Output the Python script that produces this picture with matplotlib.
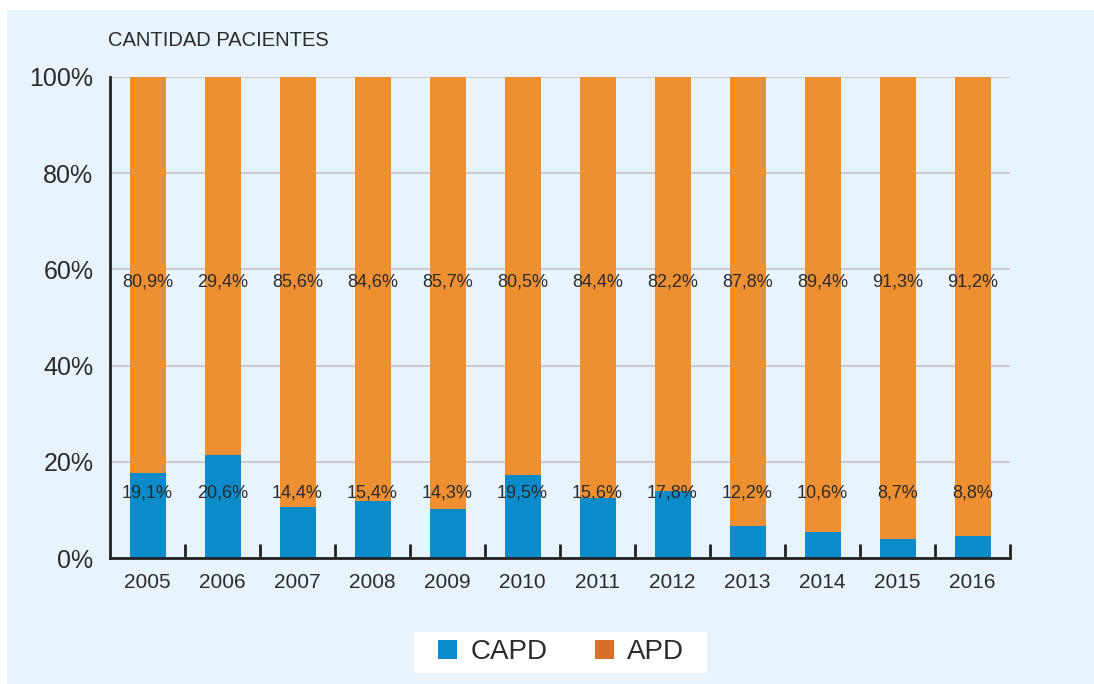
import numpy as np
import matplotlib
matplotlib.use('Agg')
import matplotlib.pyplot as plt
from matplotlib.patches import Rectangle, Patch

years = ['2005', '2006', '2007', '2008', '2009', '2010',
         '2011', '2012', '2013', '2014', '2015', '2016']
# bar heights as drawn (fraction of 100%)
capd = [17.7, 21.4, 10.6, 11.8, 10.2, 17.2, 12.5, 13.9, 6.6, 5.4, 3.9, 4.6]
# labels as printed in the chart
capd_labels = ['19,1%', '20,6%', '14,4%', '15,4%', '14,3%', '19,5%',
               '15,6%', '17,8%', '12,2%', '10,6%', '8,7%', '8,8%']
apd_labels = ['80,9%', '29,4%', '85,6%', '84,6%', '85,7%', '80,5%',
              '84,4%', '82,2%', '87,8%', '89,4%', '91,3%', '91,2%']

BLUE = '#0c8bcb'
ORANGE = '#ee8f32'
ORANGE_LEG = '#d8702c'
BG = '#e8f4fc'
TXT = '#2b2b2b'

plt.rcParams['font.family'] = ['Liberation Sans', 'DejaVu Sans']

W, H = 1094, 684
fig = plt.figure(figsize=(W / 100, H / 100), dpi=100, facecolor='white')
fig.patches.append(Rectangle((7 / W, 0), 1 - 7 / W, 1 - 10 / H,
                             transform=fig.transFigure, facecolor=BG,
                             edgecolor='none', zorder=-10))
# white legend box
fig.patches.append(Rectangle((414 / W, 1 - 673 / H), 293 / W, 41 / H,
                             transform=fig.transFigure, facecolor='white',
                             edgecolor='none', zorder=-5))

# axes: x 110..1010, y 77..558 (pixels from top)
ax = fig.add_axes([110 / W, 1 - 558 / H, 900 / W, 481 / H])
ax.set_facecolor('none')

x = np.arange(len(years))
apd = [100 - c for c in capd]
ax.bar(x, capd, width=0.48, color=BLUE, zorder=2)
ax.bar(x, apd, width=0.48, bottom=capd, color=ORANGE, zorder=2)

for i in x:
    ax.text(i, 57.4, apd_labels[i], ha='center', va='center', fontsize=13,
            color=TXT, zorder=3)
    ax.text(i, 13.5, capd_labels[i], ha='center', va='center', fontsize=13,
            color=TXT, zorder=3)

ax.set_xlim(-0.5, len(years) - 0.5)
ax.set_ylim(0, 100)
ax.set_yticks([0, 20, 40, 60, 80, 100])
ax.set_yticklabels(['0%', '20%', '40%', '60%', '80%', '100%'],
                   fontsize=18, color=TXT)
ax.yaxis.grid(True, color='#cccccc', linewidth=1.5, zorder=1)
ax.set_axisbelow(True)
ax.tick_params(axis='y', length=0, pad=12)

ax.set_xticks(x)
ax.set_xticklabels(years, fontsize=15, color=TXT)
ax.set_xticks(np.arange(0.5, len(years), 1), minor=True)
ax.tick_params(axis='x', which='major', length=0, pad=11)
ax.tick_params(axis='x', which='minor', direction='in', length=10,
               width=2, color='#222222')

for s in ['top', 'right']:
    ax.spines[s].set_visible(False)
for s in ['left', 'bottom']:
    ax.spines[s].set_color('#222222')
    ax.spines[s].set_linewidth(2)

fig.text(108 / W, 1 - 40 / H, 'CANTIDAD PACIENTES', fontsize=14.5,
         color=TXT, ha='left', va='center')

handles = [Patch(facecolor=BLUE, edgecolor='none', label='CAPD'),
           Patch(facecolor=ORANGE_LEG, edgecolor='none', label='APD')]
leg = fig.legend(handles=handles, loc='center',
                 bbox_to_anchor=(561 / W, 1 - 652 / H), ncol=2,
                 fontsize=20, frameon=False,
                 handlelength=0.7, handleheight=0.7, handletextpad=0.47,
                 columnspacing=1.7, borderpad=0, borderaxespad=0)
for t in leg.get_texts():
    t.set_color(TXT)

fig.savefig('out.png', dpi=100, facecolor='white')
